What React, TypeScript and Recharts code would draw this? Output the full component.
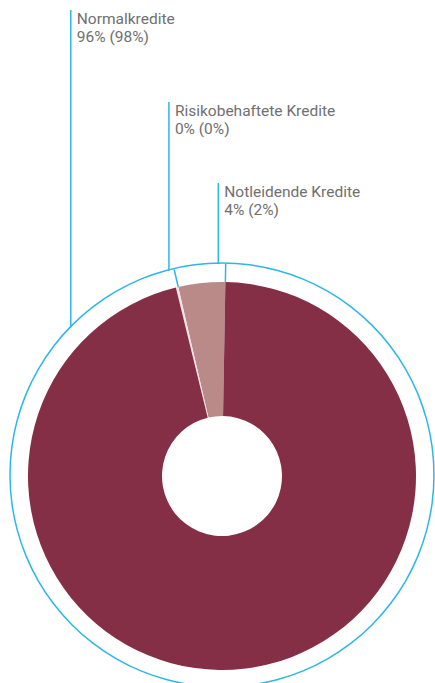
import React from 'react';
import { PieChart, Pie, Cell } from 'recharts';

const categories = ['Notleidende Kredite', 'Risikobehaftete Kredite', 'Normalkredite'];
const shareValues = [3.9, 0.2, 95.9];
const currentLabels = ['4%', '0%', '96%'];
const priorLabels = ['(2%)', '(0%)', '(98%)'];
const sliceColors = ['#b98a87', '#f1e4e5', '#852f47'];

const ringData = [{ name: 'ring', value: 1 }];

const data = categories.map((name, i) => ({
  name,
  value: shareValues[i],
  current: currentLabels[i],
  prior: priorLabels[i],
}));

// layout (not data)
const CX = 222;
const CY = 476;
const OUTER_R = 194;
const INNER_R = 60;
const RING_R = 212;
const anchorAngles = [91, 104.5, 135.5];
const labelTops = [183, 102, 10];
const BLUE = '#2cb6ea';
const TEXT = '#707070';

const RAD = Math.PI / 180;

const renderLabel = (p: any) => {
  const { cx, cy, outerRadius, startAngle, index } = p;
  const a = anchorAngles[index] * RAD;
  const ax = cx + RING_R * Math.cos(a);
  const ay = cy - RING_R * Math.sin(a);
  const top = labelTops[index];
  const sa = (startAngle ?? 0) * RAD;
  const item = data[index];
  return (
    <g key={`lbl-${index}`}>
      {index < 2 && (
        <line
          x1={cx + outerRadius * Math.cos(sa)}
          y1={cy - outerRadius * Math.sin(sa)}
          x2={cx + RING_R * Math.cos(sa)}
          y2={cy - RING_R * Math.sin(sa)}
          stroke={BLUE}
          strokeWidth={1.5}
        />
      )}
      <line x1={ax} y1={ay} x2={ax} y2={top} stroke={BLUE} strokeWidth={1.5} />
      <text x={ax + 6} y={top + 14} fill={TEXT} fontSize={15.5} fontFamily="Roboto, sans-serif">
        {item.name}
      </text>
      <text x={ax + 6} y={top + 32} fill={TEXT} fontSize={15.5} fontFamily="Roboto, sans-serif">
        {`${item.current} ${item.prior}`}
      </text>
    </g>
  );
};

export default function App() {
  return (
    <div style={{ position: 'absolute', left: 0, top: 0 }}>
      <PieChart width={435} height={683} margin={{ top: 0, right: 0, bottom: 0, left: 0 }}>
        <Pie
          data={ringData}
          dataKey="value"
          cx={CX}
          cy={CY - 1}
          innerRadius={RING_R - 0.75}
          outerRadius={RING_R + 0.75}
          fill={BLUE}
          stroke="none"
          isAnimationActive={false}
        />
        <Pie
          data={data}
          dataKey="value"
          cx={CX}
          cy={CY}
          innerRadius={INNER_R}
          outerRadius={OUTER_R}
          startAngle={89}
          endAngle={449}
          stroke="none"
          label={renderLabel}
          labelLine={false}
          isAnimationActive={false}
        >
          {data.map((d, i) => (
            <Cell key={d.name} fill={sliceColors[i]} />
          ))}
        </Pie>
      </PieChart>
    </div>
  );
}
